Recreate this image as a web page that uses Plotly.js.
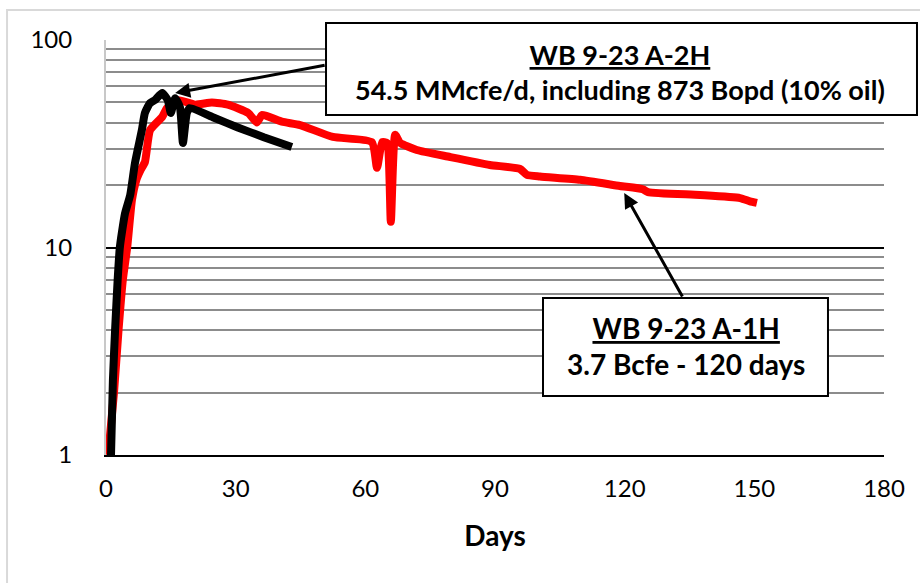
<!DOCTYPE html>
<html>
<head>
<meta charset="utf-8">
<script src="https://cdn.plot.ly/plotly-3.0.1.min.js"></script>
<style>html,body{margin:0;padding:0;background:#fff;}#chart{width:920px;height:583px;}</style>
</head>
<body>
<div id="chart"></div>
<script>
// WB 9-23 A-1H (red)
const a1hDays = [0.5, 1.85, 2.9, 3.9, 4.9, 6.0, 7.0, 8.0, 9.0, 10.2, 13.0, 14.1, 16.7, 20.6, 24.5, 28.2, 32.9, 34.9, 36.1, 40.7, 44.9, 52.5, 61.5, 62.7, 63.9, 65.0, 65.9, 66.9, 68.0, 71.9, 79.6, 88.8, 95.8, 97.4, 100.4, 109.7, 118.9, 124.2, 125.4, 137.4, 146.7, 149.0, 150.6];
const a1hRate = [1.0, 2.0, 4.0, 7.0, 10.0, 16.9, 21.1, 23.6, 25.8, 36.8, 42.6, 47.0, 51.3, 48.8, 50.0, 48.8, 44.5, 40.0, 43.5, 40.4, 38.9, 34.1, 32.2, 24.2, 32.2, 31.9, 13.3, 34.9, 32.0, 29.5, 27.3, 25.0, 23.9, 22.4, 22.0, 21.2, 19.8, 19.1, 18.5, 17.9, 17.3, 16.7, 16.4];

// WB 9-23 A-2H (black)
const a2hDays = [1.16, 1.6, 2.1, 2.7, 3.2, 3.7, 4.4, 5.6, 6.7, 8.3, 9.0, 10.2, 11.3, 13.0, 14.3, 15.0, 16.0, 17.1, 17.8, 18.7, 19.4, 25.0, 30.5, 36.5, 43.0];
const a2hRate = [1.0, 2.3, 4.0, 7.0, 10.0, 11.9, 14.6, 17.9, 25.5, 36.8, 44.5, 49.7, 51.3, 55.5, 51.3, 44.5, 52.4, 47.5, 31.9, 44.5, 47.0, 42.2, 37.9, 34.0, 30.5];

const xTicks = [0, 30, 60, 90, 120, 150, 180];
const yTicks = [1, 10, 100];

const FONT = 'Lato, "Liberation Sans", Arial, sans-serif';

const traces = [
  {x: a1hDays, y: a1hRate, type: 'scatter', mode: 'lines', name: 'WB 9-23 A-1H',
   line: {color: '#ff0000', width: 8, shape: 'spline', smoothing: 0.5}},
  {x: a2hDays, y: a2hRate, type: 'scatter', mode: 'lines', name: 'WB 9-23 A-2H',
   line: {color: '#000000', width: 8, shape: 'spline', smoothing: 0.5}}
];

const layout = {
  width: 920, height: 583,
  margin: {l: 106, r: 36, t: 40, b: 128},
  paper_bgcolor: '#ffffff', plot_bgcolor: '#ffffff',
  showlegend: false,
  font: {family: FONT, color: '#000000'},
  xaxis: {
    range: [0, 180], tickvals: xTicks, ticktext: xTicks.map(String),
    showgrid: false, zeroline: false, showline: true, linecolor: '#000000', linewidth: 2,
    ticks: '', ticklabelstandoff: 11, tickfont: {size: 24, family: FONT},
    title: {text: '<b>Days</b>', font: {size: 28, family: FONT}, standoff: 26},
    automargin: false, fixedrange: true
  },
  yaxis: {
    type: 'log', range: [0, 2], tickvals: yTicks, ticktext: yTicks.map(String),
    showgrid: true, gridcolor: '#000000', gridwidth: 2,
    minor: {dtick: 'D1', showgrid: true, gridcolor: '#8c8c8c', gridwidth: 2, ticks: ''},
    zeroline: false, showline: true, linecolor: '#c8c8c8', linewidth: 2,
    ticks: '', ticklabelstandoff: 27, tickfont: {size: 24, family: FONT},
    automargin: false, fixedrange: true
  },
  shapes: [
    {type: 'rect', xref: 'paper', yref: 'paper', x0: -0.1272, x1: 1.1, y0: -0.4, y1: 1.0723,
     line: {color: '#d9d9d9', width: 2}, fillcolor: 'rgba(0,0,0,0)', layer: 'below'},
    {type: 'rect', xref: 'paper', yref: 'paper', x0: 0.2828, x1: 1.0424, y0: 0.819, y1: 1.041,
     line: {color: '#000000', width: 2}, fillcolor: '#ffffff', layer: 'above'},
    {type: 'rect', xref: 'paper', yref: 'paper', x0: 0.5617, x1: 0.9280, y0: 0.1422, y1: 0.3783,
     line: {color: '#000000', width: 2}, fillcolor: '#ffffff', layer: 'above'}
  ],
  annotations: [
    {xref: 'paper', yref: 'paper', x: 0.6607, y: 0.9217, xanchor: 'center', yanchor: 'middle',
     showarrow: false, align: 'center',
     text: '<b><u>WB 9-23 A-2H</u></b><br><b>54.5 MMcfe/d, including 873 Bopd (10% oil)</b>',
     font: {size: 27, family: FONT, color: '#000000'}},
    {xref: 'paper', yref: 'paper', x: 0.7455, y: 0.2627, xanchor: 'center', yanchor: 'middle',
     showarrow: false, align: 'center',
     text: '<b><u>WB 9-23 A-1H</u></b><br><b>3.7 Bcfe - 120 days</b>',
     font: {size: 28, family: FONT, color: '#000000'}},
    {xref: 'x', yref: 'y', x: 16.0, y: Math.log10(55.5), text: '', showarrow: true,
     arrowhead: 2, arrowsize: 1, arrowwidth: 3, arrowcolor: '#000000', ax: 151, ay: -28},
    {xref: 'x', yref: 'y', x: 119.9, y: Math.log10(18.3), text: '', showarrow: true,
     arrowhead: 2, arrowsize: 1, arrowwidth: 3, arrowcolor: '#000000', ax: 59, ay: 105}
  ]
};

Plotly.newPlot('chart', traces, layout, {staticPlot: true, displayModeBar: false});
</script>
</body>
</html>
